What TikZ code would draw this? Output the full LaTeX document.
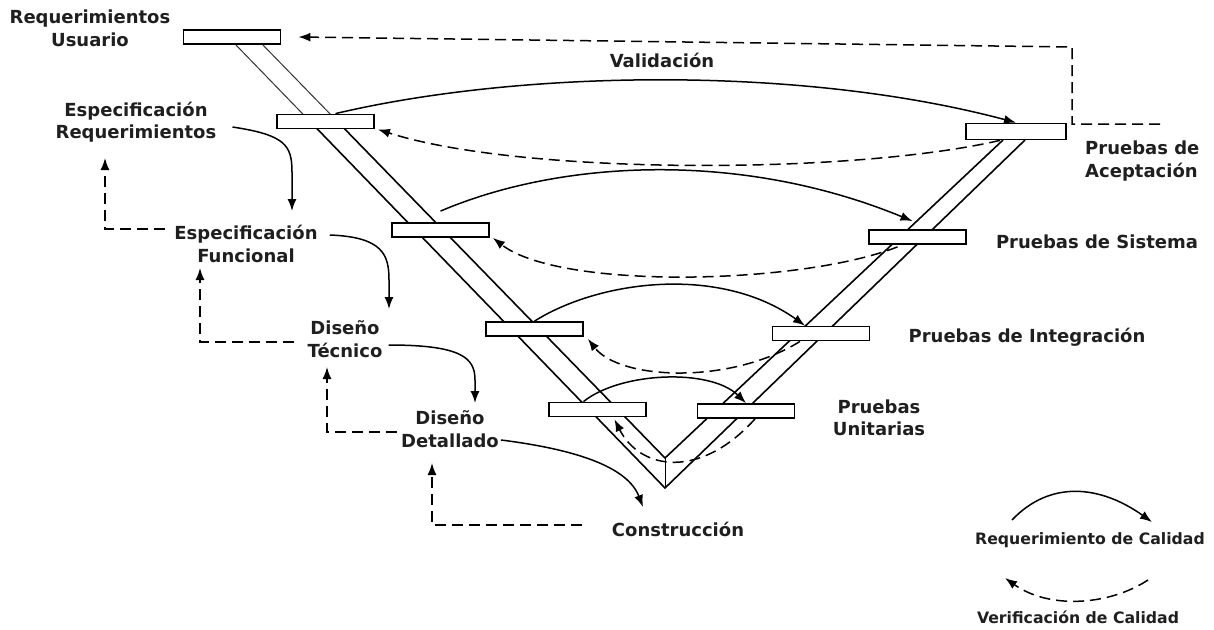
\documentclass[tikz,border=0pt]{standalone}
\usepackage{fontspec}
\setmainfont{DejaVu Sans}
\usetikzlibrary{arrows.meta,calc}
\begin{document}
\begin{tikzpicture}[x=1pt,y=-1pt,
  box/.style={draw, fill=white, line width=1.8pt, minimum width=97pt, minimum height=14pt, inner sep=0pt},
  lbl/.style={font=\fontsize{18}{22.5}\selectfont\bfseries, align=center, inner sep=0pt, text=black!88},
  leg/.style={font=\fontsize{15.7}{19}\selectfont\bfseries, inner sep=0pt, text=black!88},
  req/.style={line width=1.5pt, -{Latex[length=12pt,width=9pt]}},
  ver/.style={line width=1.5pt, dash pattern=on 11pt off 6pt, -{Latex[length=12pt,width=9pt]}},
  arm/.style={line width=1.6pt},
  thinarm/.style={line width=1.0pt, black!80},
]
\useasboundingbox (0,0) rectangle (1214,629);

% V shape (double lines)
\coordinate (LoT) at (235,44);
\coordinate (LiT) at (262,44);
\coordinate (RiT) at (1003,140);
\coordinate (RoT) at (1025,140);
\coordinate (Vi) at (665,458);
\coordinate (Vo) at (665,488);
\coordinate (LoM) at ($(LoT)!0.1745!(Vo)$);
\coordinate (LiM) at ($(LiT)!0.1872!(Vi)$);
\draw[thinarm] (LoT) -- (LoM);
\draw[thinarm] (LiT) -- (LiM);
\draw[arm] (LoM) -- (Vo) -- (RoT);
\draw[arm] (LiM) -- (Vi) -- (RiT);
\draw[line width=0.7pt] (Vi) -- (Vo);

% boxes
\node[box] (bRU) at (232,37) {};
\node[box] (bER) at (325.5,121.5) {};
\node[box] (bEF) at (440.5,230) {};
\node[box] (bDT) at (534.5,329) {};
\node[box] (bDD) at (597.5,409.5) {};
\node[box] (bPU) at (746,411) {};
\node[box] (bPI) at (821,333.5) {};
\node[box] (bPS) at (917.5,237) {};
\node[box, minimum width=100pt, minimum height=16pt] (bPA) at (1016,131.5) {};

% labels
\node[lbl] (lRU) at (90,28.5) {Requerimientos\\Usuario};
\node[lbl] (lER) at (136,122) {Especificación\\Requerimientos};
\node[lbl] (lEF) at (246,244) {Especificación\\Funcional};
\node[lbl] (lDT) at (345,339) {Diseño\\Técnico};
\node[lbl] (lDD) at (450,429) {Diseño\\Detallado};
\node[lbl, anchor=base] (lCO) at (678,536) {Construcción};
\node[lbl, anchor=base] (lVal) at (662,67) {Validación};
\node[lbl, anchor=west, align=left] (lPA) at (1085,161) {Pruebas de\\Aceptación};
\node[lbl, anchor=base] (lPS) at (1097,248) {Pruebas de Sistema};
\node[lbl, anchor=base] (lPI) at (1027,342) {Pruebas de Integración};
\node[lbl] (lPU) at (879,418) {Pruebas\\Unitarias};

% quality requirement arcs (solid)
\draw[req] ([xshift=10pt]bER.north) .. controls (520,70) and (800,65) .. (bPA.north);
\draw[req] ([yshift=11pt]bEF.north) .. controls (560,160) and (740,150) .. ([shift={(-5pt,8pt)}]bPS.north);
\draw[req] (bDT.north) .. controls (600,280) and (720,265) .. ([xshift=-16pt]bPI.north);
\draw[req] ([xshift=-14pt]bDD.north) .. controls (620,372) and (710,368) .. (bPU.north);

% quality verification arcs (dashed)
\draw[ver] ([xshift=-16pt]bPA.south) .. controls (850,175) and (520,175) .. ([xshift=3pt]bER.south east);
\draw[ver] ([shift={(-20pt,-2pt)}]bPS.south) .. controls (800,285) and (560,290) .. ([xshift=3pt]bEF.south east);
\draw[ver] ([xshift=-21pt]bPI.south) .. controls (730,385) and (620,380) .. ([shift={(4pt,-2pt)}]bDT.south east);
\draw[ver] ([xshift=9pt]bPU.south) .. controls (700,480) and (640,470) .. ([shift={(17pt,-2pt)}]bDD.south);

% top feedback dashed
\coordinate (pEnd) at (1160,124);
\coordinate (pC1) at (1072,124);
\coordinate (pC2) at (1072,47);
\draw[ver] (pEnd) -- (pC1) -- (pC2) -- ([xshift=17pt]bRU.east);

% left side flow (solid)
\coordinate (aEF) at (292,211);
\coordinate (aDT) at (389,309);
\coordinate (aDD) at (475,403);
\coordinate (aCO) at (643,507);
\draw[req] ([shift={(16pt,-5pt)}]lER.east) .. controls (285,135) and (292,145) .. (292,172) -- (aEF);
\draw[req] ([shift={(12pt,9pt)}]lEF.east) .. controls (383,237) and (389,255) .. (389,280) -- (aDT);
\draw[req] ([shift={(6pt,-6pt)}]lDT.east) .. controls (462,345) and (475,358) .. (475,380) -- (aDD);
\draw[req] ([shift={(2pt,-11pt)}]lDD.east) .. controls (580,450) and (628,468) .. (aCO);

% left side feedback (dashed)
\coordinate (fER) at (105,158);
\coordinate (fEF) at (200,268);
\coordinate (fDT) at (327,367);
\coordinate (fDD) at (432,463);
\draw[ver] ([shift={(-9pt,15pt)}]lEF.west) -| (fER);
\draw[ver] ([shift={(-13pt,-3pt)}]lDT.west) -| (fEF);
\draw[ver] ([shift={(-4pt,-3pt)}]lDD.west) -| (fDT);
\draw[ver] ([shift={(-30pt,4pt)}]lCO.west) -| (fDD);

% legend
\coordinate (gA) at (1012,520);
\coordinate (gB) at (1152,522);
\coordinate (gC) at (1148,580);
\coordinate (gD) at (1005,578);
\draw[req] (gA) .. controls (1050,480) and (1100,485) .. (gB);
\draw[ver] (gC) .. controls (1110,605) and (1050,610) .. (gD);
\node[leg] (tRC) at (1090,540) {Requerimiento de Calidad};
\node[leg] (tVC) at (1078,617) {Verificación de Calidad};
\end{tikzpicture}
\end{document}
